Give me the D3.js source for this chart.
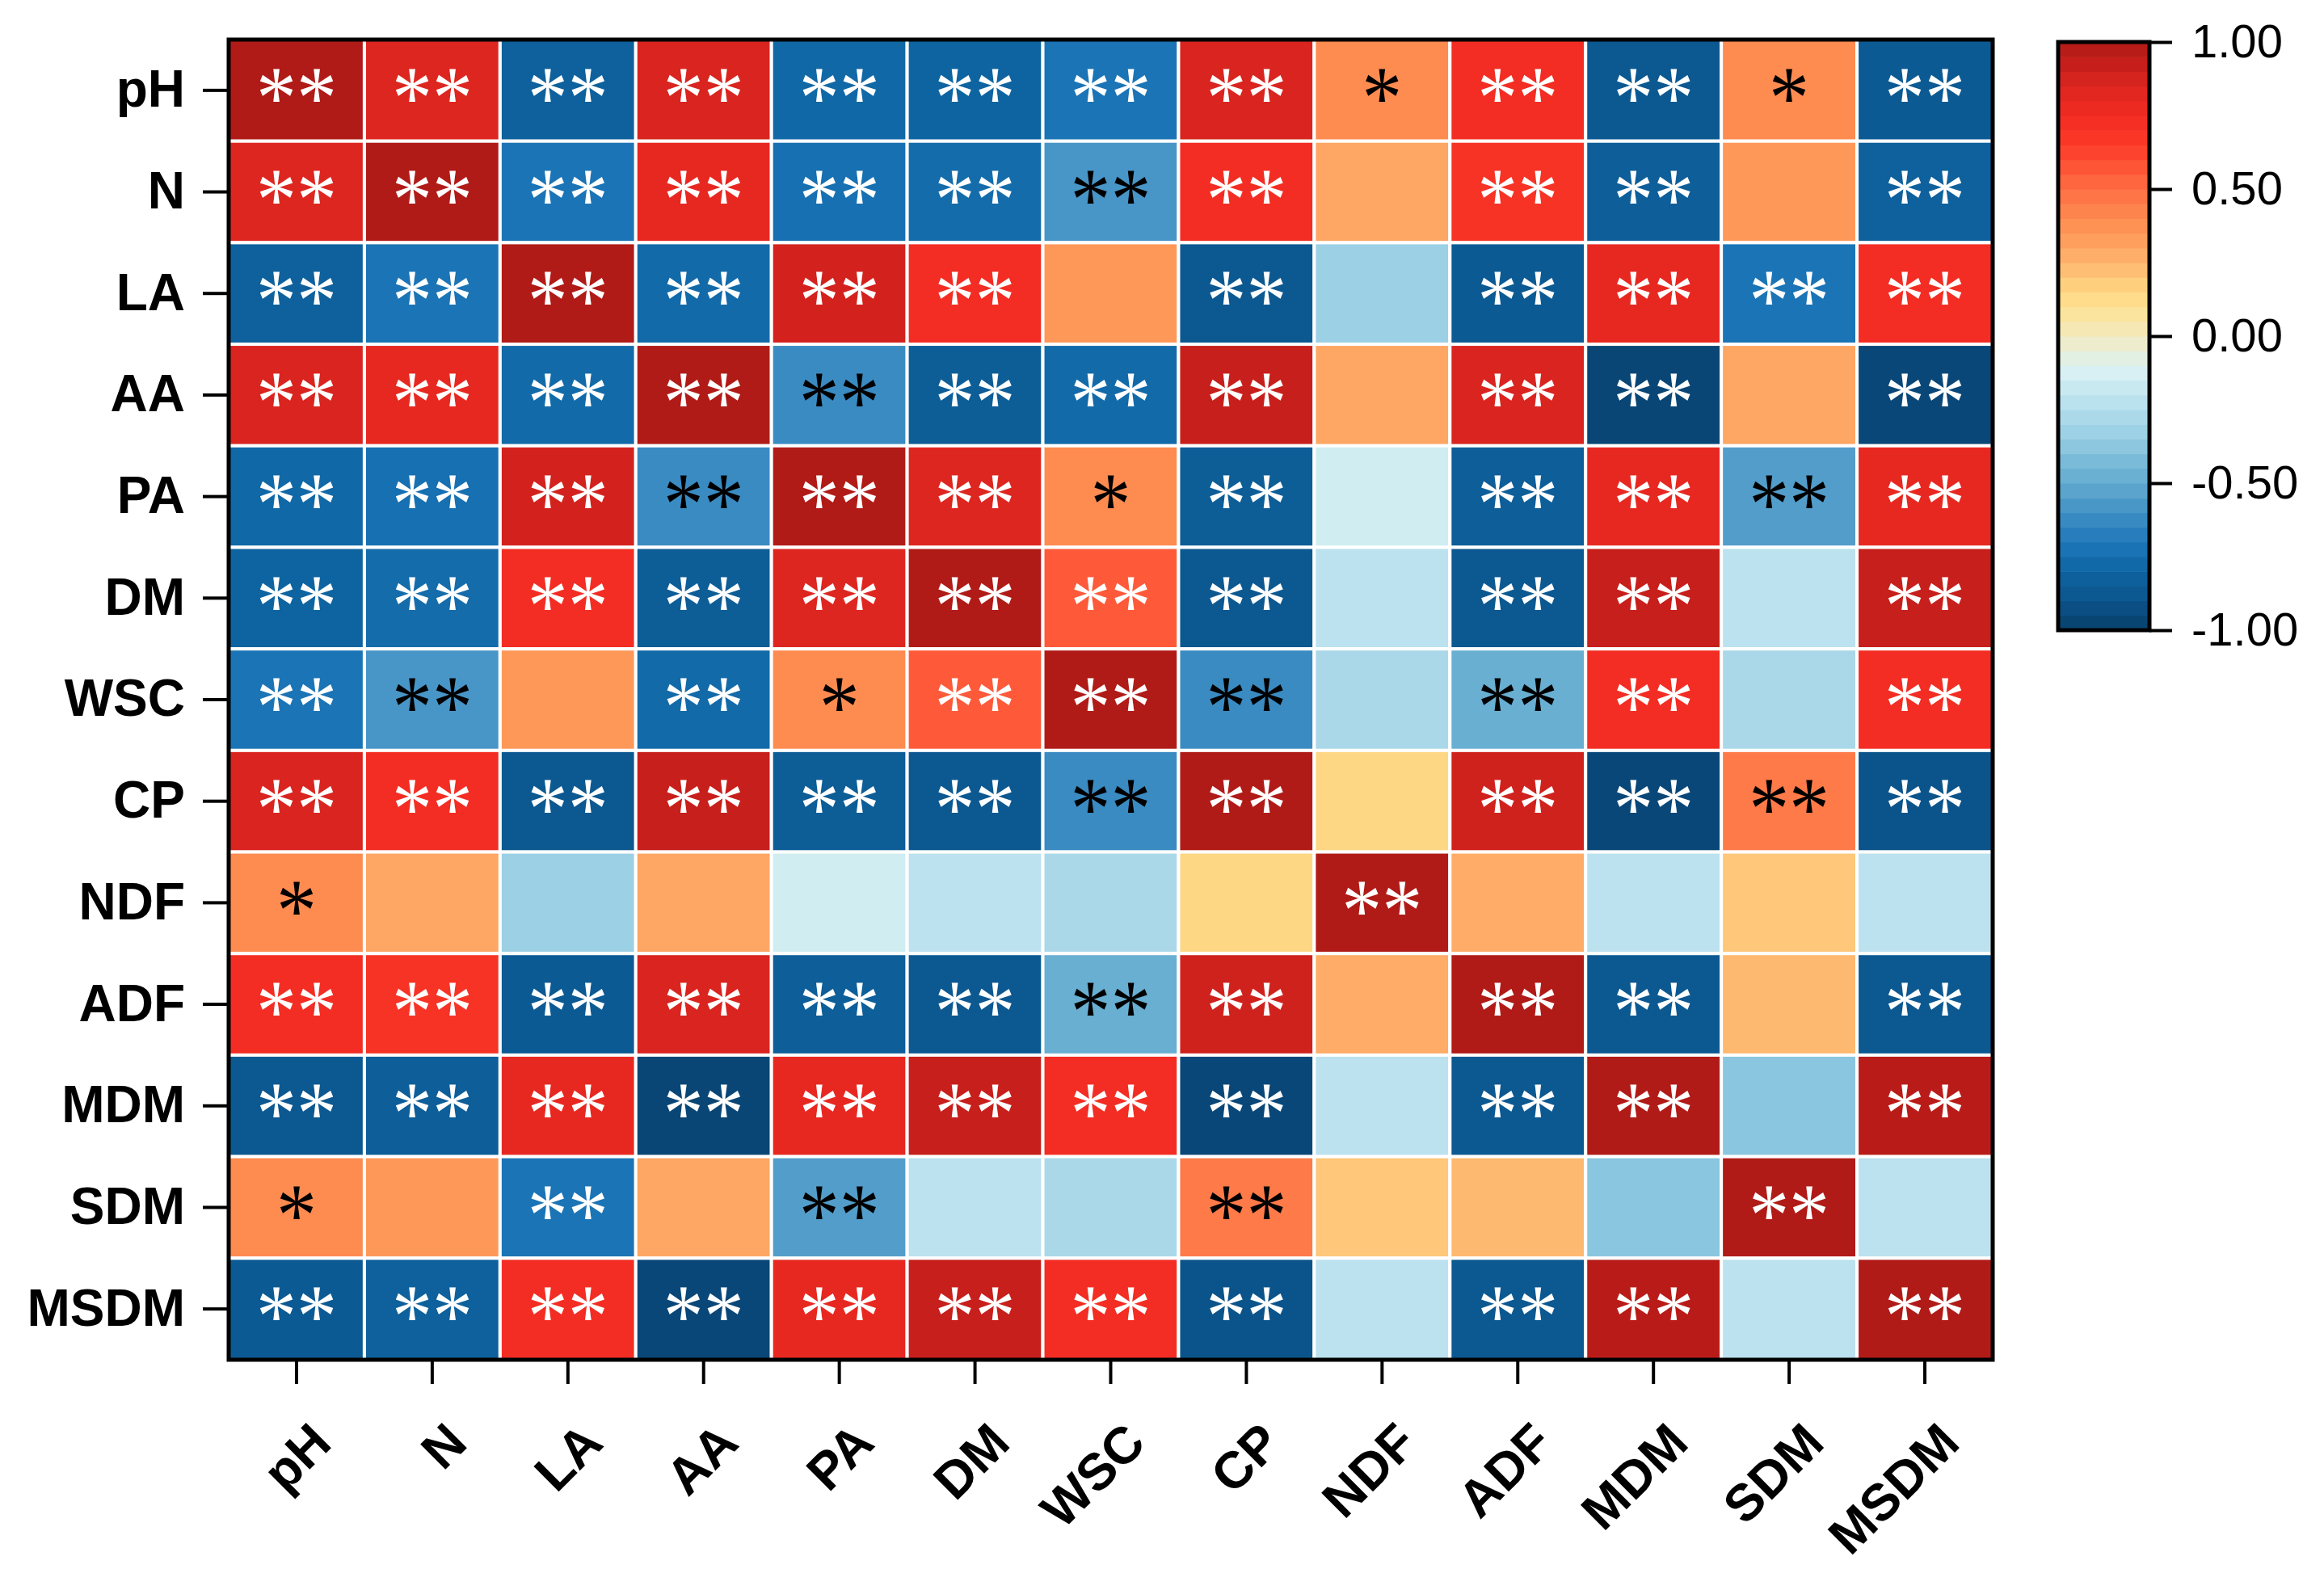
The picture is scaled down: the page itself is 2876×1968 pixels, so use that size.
<!DOCTYPE html>
<html>
<head>
<meta charset="utf-8">
<script src="https://cdn.jsdelivr.net/npm/d3@7"></script>
<style>
  body { margin: 0; background: #fff; }
  svg { display: block; }
</style>
</head>
<body>
<svg id="plate" width="2876" height="1968"></svg>
<script>
// variables, same order on both axes
var vars = ['pH', 'N', 'LA', 'AA', 'PA', 'DM', 'WSC', 'CP', 'NDF', 'ADF', 'MDM', 'SDM', 'MSDM'];

// correlation values, one row per variable
var rPH   = [1.00, 0.84, -0.82, 0.86, -0.78, -0.80, -0.72, 0.86, 0.40, 0.74, -0.88, 0.40, -0.87];
var rN    = [0.84, 1.00, -0.72, 0.80, -0.74, -0.76, -0.58, 0.74, 0.30, 0.70, -0.84, 0.35, -0.82];
var rLA   = [-0.82, -0.72, 1.00, -0.77, 0.88, 0.74, 0.35, -0.88, -0.33, -0.87, 0.80, -0.72, 0.74];
var rAA   = [0.86, 0.80, -0.77, 1.00, -0.62, -0.85, -0.77, 0.92, 0.30, 0.86, -0.97, 0.30, -0.96];
var rPA   = [-0.78, -0.74, 0.88, -0.62, 1.00, 0.84, 0.40, -0.85, -0.15, -0.84, 0.80, -0.55, 0.80];
var rDM   = [-0.80, -0.76, 0.74, -0.85, 0.84, 1.00, 0.56, -0.88, -0.22, -0.88, 0.92, -0.22, 0.92];
var rWSC  = [-0.72, -0.58, 0.35, -0.77, 0.40, 0.56, 1.00, -0.62, -0.28, -0.48, 0.74, -0.28, 0.74];
var rCP   = [0.86, 0.74, -0.88, 0.92, -0.85, -0.88, -0.62, 1.00, 0.15, 0.89, -0.96, 0.46, -0.90];
var rNDF  = [0.40, 0.30, -0.33, 0.30, -0.15, -0.22, -0.28, 0.15, 1.00, 0.28, -0.22, 0.20, -0.22];
var rADF  = [0.74, 0.70, -0.87, 0.86, -0.84, -0.88, -0.48, 0.89, 0.28, 1.00, -0.88, 0.24, -0.88];
var rMDM  = [-0.88, -0.84, 0.80, -0.97, 0.80, 0.92, 0.74, -0.96, -0.22, -0.88, 1.00, -0.38, 0.97];
var rSDM  = [0.40, 0.35, -0.72, 0.30, -0.55, -0.22, -0.28, 0.46, 0.20, 0.24, -0.38, 1.00, -0.22];
var rMSDM = [-0.87, -0.82, 0.74, -0.96, 0.80, 0.92, 0.74, -0.90, -0.22, -0.88, 0.97, -0.22, 1.00];
var corr = [rPH, rN, rLA, rAA, rPA, rDM, rWSC, rCP, rNDF, rADF, rMDM, rSDM, rMSDM];

// significance marks
var sig = [
    ['**', '**', '**', '**', '**', '**', '**', '**', '*', '**', '**', '*', '**'],
    ['**', '**', '**', '**', '**', '**', '**', '**', '', '**', '**', '', '**'],
    ['**', '**', '**', '**', '**', '**', '', '**', '', '**', '**', '**', '**'],
    ['**', '**', '**', '**', '**', '**', '**', '**', '', '**', '**', '', '**'],
    ['**', '**', '**', '**', '**', '**', '*', '**', '', '**', '**', '**', '**'],
    ['**', '**', '**', '**', '**', '**', '**', '**', '', '**', '**', '', '**'],
    ['**', '**', '', '**', '*', '**', '**', '**', '', '**', '**', '', '**'],
    ['**', '**', '**', '**', '**', '**', '**', '**', '', '**', '**', '**', '**'],
    ['*', '', '', '', '', '', '', '', '**', '', '', '', ''],
    ['**', '**', '**', '**', '**', '**', '**', '**', '', '**', '**', '', '**'],
    ['**', '**', '**', '**', '**', '**', '**', '**', '', '**', '**', '', '**'],
    ['*', '', '**', '', '**', '', '', '**', '', '', '', '**', ''],
    ['**', '**', '**', '**', '**', '**', '**', '**', '', '**', '**', '', '**']
];

// colour bar ticks
var barTicks = [-1, -0.5, 0, 0.5, 1];

// colour ramp picked from the colour bar
var stopValues = [-1, -0.94, -0.88, -0.8, -0.73, -0.65, -0.57, -0.5, -0.42, -0.35, -0.27, -0.2, -0.12, -0.06, 0,
    0.1, 0.17, 0.25, 0.32, 0.4, 0.5, 0.55, 0.65, 0.75, 0.85, 0.93, 1];
var stopColors = ['#08406b', '#0a4b7e', '#0c5891', '#0e64a0', '#1872b4', '#2f83bf', '#4b98c8', '#62aad0', '#7bbcd9',
    '#96cde3', '#addaea', '#c1e5f0', '#d9f1f3', '#e4f0de', '#f3eac0',
    '#fee291', '#fed27f', '#feb56e', '#fea05e', '#fe8b50', '#fe6e44', '#fe5e3c', '#fc3a29', '#f22c22', '#dc2520', '#c41e1a', '#b01b17'];

var color = d3.scaleLinear().domain(stopValues).range(stopColors).interpolate(d3.interpolateRgb).clamp(true);

var svg = d3.select('#plate');
var margin = {top: 49, left: 283};
var width = 2183;
var height = 1634;

var x = d3.scaleBand().domain(vars).range([margin.left, margin.left + width]);
var y = d3.scaleBand().domain(vars).range([margin.top, margin.top + height]);

var cells = [];
corr.forEach(function(row, i) {
    row.forEach(function(v, j) {
        cells.push({row: vars[i], col: vars[j], value: v, mark: sig[i][j]});
    });
});

// cells
svg.append('g')
    .selectAll('rect')
    .data(cells)
    .enter().append('rect')
    .attr('x', function(d) { return x(d.col); })
    .attr('y', function(d) { return y(d.row); })
    .attr('width', x.bandwidth())
    .attr('height', y.bandwidth())
    .attr('fill', function(d) { return color(d.value); })
    .attr('stroke', '#fff')
    .attr('stroke-width', 4);

// significance marks (stretched a little vertically, like the original glyphs)
svg.append('g')
    .selectAll('text')
    .data(cells.filter(function(d) { return d.mark; }))
    .enter().append('text')
    .attr('transform', function(d) {
        return 'translate(' + (x(d.col) + x.bandwidth() / 2) + ',' + (y(d.row) + y.bandwidth() / 2) + ') scale(1,1.1)';
    })
    .attr('x', 0)
    .attr('y', 42)
    .attr('text-anchor', 'middle')
    .style('font-family', '"Liberation Serif", serif')
    .style('font-size', '100px')
    .attr('fill', function(d) { return (d.value >= 0.55 || d.value <= -0.68) ? '#fff' : '#000'; })
    .text(function(d) { return d.mark; });

// frame
svg.append('rect')
    .attr('x', margin.left)
    .attr('y', margin.top)
    .attr('width', width)
    .attr('height', height)
    .attr('fill', 'none')
    .attr('stroke', '#000')
    .attr('stroke-width', 5);

// left axis
var yAxis = svg.append('g')
    .attr('transform', 'translate(' + (margin.left - 2) + ',0)')
    .call(d3.axisLeft(y).tickSize(30).tickPadding(22));
yAxis.select('.domain').remove();
yAxis.selectAll('line').attr('stroke-width', 4);
yAxis.selectAll('text')
    .style('font-family', '"Liberation Sans", Arial, sans-serif')
    .style('font-weight', 'bold')
    .style('font-size', '64px')
    .attr('fill', '#000');

// bottom axis, labels turned 45 degrees
var xAxis = svg.append('g')
    .attr('transform', 'translate(0,' + (margin.top + height + 2) + ')')
    .call(d3.axisBottom(x).tickSize(28));
xAxis.select('.domain').remove();
xAxis.selectAll('line').attr('stroke-width', 4);
xAxis.selectAll('text')
    .attr('x', 0)
    .attr('y', 0)
    .attr('dy', 0)
    .attr('text-anchor', 'end')
    .attr('transform', 'translate(46,104) rotate(-45)')
    .style('font-family', '"Liberation Sans", Arial, sans-serif')
    .style('font-weight', 'bold')
    .style('font-size', '64px')
    .attr('fill', '#000');

// colour bar
var barX = 2547, barW = 113;
var yc = d3.scaleLinear().domain([-1, 1]).range([780, 52]);
var nBands = 40;
var bands = d3.range(nBands).map(function(i) { return -1 + (i + 0.5) * 2 / nBands; });
var bandH = (yc(-1) - yc(1)) / nBands;

svg.append('g')
    .selectAll('rect')
    .data(bands)
    .enter().append('rect')
    .attr('x', barX)
    .attr('y', function(d) { return yc(d) - bandH / 2; })
    .attr('width', barW)
    .attr('height', bandH + 0.6)
    .attr('fill', function(d) { return color(d); });

svg.append('rect')
    .attr('x', barX)
    .attr('y', yc(1))
    .attr('width', barW)
    .attr('height', yc(-1) - yc(1))
    .attr('fill', 'none')
    .attr('stroke', '#000')
    .attr('stroke-width', 5);

var cAxis = svg.append('g')
    .attr('transform', 'translate(' + (barX + barW) + ',0)')
    .call(d3.axisRight(yc).tickValues(barTicks).tickSize(28).tickPadding(24)
        .tickFormat(function(d) { return d.toFixed(2); }));
cAxis.select('.domain').remove();
cAxis.selectAll('line').attr('stroke-width', 4);
cAxis.selectAll('text')
    .style('font-family', '"Liberation Sans", Arial, sans-serif')
    .style('font-size', '58px')
    .attr('fill', '#000');
</script>
</body>
</html>
